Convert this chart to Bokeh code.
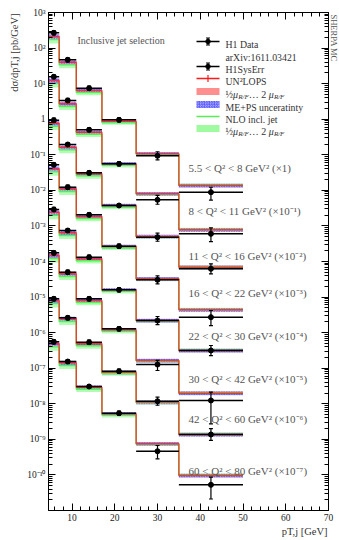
import math
from bokeh.plotting import figure
from bokeh.models import (Range1d, LinearScale, LinearAxis, LogAxis, FixedTicker,
                          CustomJSTickFormatter, Label, ColumnDataSource, Title)
from bokeh.embed import file_html
from bokeh.resources import INLINE

# ------------------------------------------------------------------ data
pt_edges = [4.5, 7, 11, 17, 25, 35, 50]
q2_labels = [
    "5.5 < Q² < 8 GeV² (×1)",
    "8 < Q² < 11 GeV² (×10⁻¹)",
    "11 < Q² < 16 GeV² (×10⁻²)",
    "16 < Q² < 22 GeV² (×10⁻³)",
    "22 < Q² < 30 GeV² (×10⁻⁴)",
    "30 < Q² < 42 GeV² (×10⁻⁵)",
    "42 < Q² < 60 GeV² (×10⁻⁶)",
    "60 < Q² < 80 GeV² (×10⁻⁷)",
]
scale_exp = [0, -1, -2, -3, -4, -5, -6, -7]

h1_data = [
    [268, 46.8, 7.45, 0.962, 0.0936, 0.00887],
    [156, 33.6, 5.04, 0.557, 0.0542, 0.0060],
    [93.8, 19.45, 3.11, 0.375, 0.0482, 0.00623],
    [52.3, 12.27, 2.056, 0.269, 0.0305, 0.00272],
    [29.0, 7.43, 1.32, 0.160, 0.0219, 0.00315],
    [17.5, 5.0, 0.893, 0.128, 0.0127, 0.00124],
    [8.93, 2.61, 0.538, 0.0824, 0.0118, 0.00137],
    [5.52, 1.54, 0.306, 0.0543, 0.00464, 0.000527],
]
h1_err_up = [
    [0.14, 0.14, 0.14, 0.14, 0.30, 0.38],
    [0.14, 0.14, 0.14, 0.14, 0.33, 0.47],
    [0.14, 0.14, 0.14, 0.14, 0.30, 0.38],
    [0.14, 0.14, 0.14, 0.14, 0.30, 0.54],
    [0.14, 0.14, 0.14, 0.14, 0.30, 0.38],
    [0.14, 0.14, 0.14, 0.14, 0.30, 0.71],
    [0.14, 0.14, 0.14, 0.14, 0.30, 0.47],
    [0.14, 0.14, 0.14, 0.14, 0.45, 0.65],
]
h1_err_dn = [
    [0.12, 0.12, 0.12, 0.12, 0.23, 0.40],
    [0.12, 0.12, 0.12, 0.12, 0.25, 0.40],
    [0.12, 0.12, 0.12, 0.12, 0.23, 0.28],
    [0.12, 0.12, 0.12, 0.12, 0.23, 0.42],
    [0.12, 0.12, 0.12, 0.12, 0.23, 0.28],
    [0.12, 0.12, 0.12, 0.12, 0.32, 0.78],
    [0.12, 0.12, 0.12, 0.12, 0.23, 0.32],
    [0.12, 0.12, 0.12, 0.12, 0.39, 0.60],
]
un2lops = [
    [211, 40.1, 6.41, 0.879, 0.1066, 0.01368],
    [122.5, 27.1, 4.31, 0.557, 0.080, 0.00778],
    [77.3, 16.3, 2.92, 0.375, 0.0505, 0.0069],
    [40.4, 11.06, 1.84, 0.264, 0.0326, 0.00438],
    [24.3, 6.41, 1.19, 0.160, 0.0219, 0.00315],
    [14.7, 4.51, 0.80, 0.120, 0.0164, 0.00198],
    [8.0, 2.45, 0.485, 0.0773, 0.0111, 0.00137],
    [4.85, 1.42, 0.292, 0.0522, 0.0075, 0.00096],
]
nlo_jet = [
    [173, 33.7, 5.64, 0.809, 0.1045, 0.01395],
    [100, 22.8, 3.79, 0.512, 0.0784, 0.00794],
    [63.4, 13.7, 2.57, 0.345, 0.0495, 0.00704],
    [33.1, 9.29, 1.62, 0.243, 0.0319, 0.00447],
    [19.9, 5.38, 1.05, 0.147, 0.0215, 0.00321],
    [12.1, 3.79, 0.704, 0.110, 0.0161, 0.00202],
    [6.56, 2.06, 0.427, 0.0711, 0.0109, 0.0014],
    [3.98, 1.19, 0.257, 0.048, 0.00735, 0.00098],
]
un2lops_scale_rel = [0.10, 0.09, 0.09, 0.09, 0.10, 0.11]
meps_rel = [0.16, 0.14, 0.13, 0.12, 0.12, 0.12]
nlo_scale_rel = [0.22, 0.20, 0.17, 0.14, 0.12, 0.12]

legend_texts = ["H1 Data", "arXiv:1611.03421", "H1SysErr", "UN²LOPS", None,
                "ME+PS unceratinty", "NLO incl. jet", None]

# ------------------------------------------------------------------ style / layout
FONT = "Liberation Serif"
FW, FH = 280, 498
RED = "#ff1a1a"
RED_BAND = "#ff8f8f"
GREEN = "#55ee55"
GREEN_BAND = "#a0fba0"
BLUE_H = "#5a5aff"
BLUE_F = "#d4d4ff"
TXT = "#333333"
GREY = "#555555"

leg_rows_y = [469, 456, 444, 432, 419, 406, 394, 382]
leg_sw_x0, leg_sw_x1, leg_txt_x = 148, 171, 177
q2_label_x = 140
q2_label_y = [343, 300, 255, 218, 175, 132, 92, 40]

p = figure(frame_width=FW, frame_height=FH, x_range=(4.5, 70), y_range=(1e-11, 1e3),
           y_axis_type="log", output_backend="svg", toolbar_location=None,
           min_border_left=48, min_border_right=11, min_border_top=12, min_border_bottom=30)
p.extra_x_ranges = {"px": Range1d(0, FW)}
p.extra_y_ranges = {"px": Range1d(0, FH)}
p.extra_y_scales = {"px": LinearScale()}
p.grid.visible = False
p.outline_line_color = "black"
p.background_fill_color = "white"
p.border_fill_color = "white"

x_major = [10, 20, 30, 40, 50, 60, 70]
x_minor = [v for v in range(6, 70, 2) if v % 10]
y_major = [10.0 ** e for e in range(-10, 4)]
y_minor = [k * 10.0 ** e for e in range(-11, 3) for k in range(2, 10)]

ylab = CustomJSTickFormatter(code="""
const e = Math.round(Math.log10(tick));
if (e == 0) return "1";
const sup = {"-":"⁻","0":"⁰","1":"¹","2":"²","3":"³","4":"⁴","5":"⁵","6":"⁶","7":"⁷","8":"⁸","9":"⁹"};
return "10" + String(e).split("").map(c => sup[c]).join("");
""")
blank = CustomJSTickFormatter(code='return "";')

def style_axis(ax, show_labels=True):
    ax.axis_line_color = "black"
    ax.major_tick_in = 7
    ax.major_tick_out = 0
    ax.minor_tick_in = 4
    ax.minor_tick_out = 0
    ax.major_tick_line_color = "black"
    ax.minor_tick_line_color = "black"
    ax.major_label_text_font = FONT
    ax.major_label_text_font_size = "9.5px" if show_labels else "0px"
    ax.major_label_text_color = "#222222"
    ax.major_label_standoff = 3 if show_labels else 0

p.xaxis[0].ticker = FixedTicker(ticks=x_major, minor_ticks=x_minor)
style_axis(p.xaxis[0])
p.yaxis[0].ticker = FixedTicker(ticks=y_major, minor_ticks=y_minor)
p.yaxis[0].formatter = ylab
style_axis(p.yaxis[0])

top = LinearAxis(ticker=FixedTicker(ticks=x_major, minor_ticks=x_minor), formatter=blank)
style_axis(top, False)
p.add_layout(top, "above")
right = LogAxis(ticker=FixedTicker(ticks=y_major, minor_ticks=y_minor), formatter=blank)
style_axis(right, False)
p.add_layout(right, "right")

# axis titles / side note (titles live in side panels, outside the frame)
p.add_layout(Title(text="dσ/dpT,j [pb/GeV]", align="right", offset=1, standoff=9,
                   text_font=FONT, text_font_size="10.5px", text_font_style="normal",
                   text_color=TXT), "left")
p.add_layout(Title(text="pT,j [GeV]", align="right", offset=1, standoff=1,
                   text_font=FONT, text_font_size="10.5px", text_font_style="normal",
                   text_color=TXT), "below")
p.add_layout(Title(text="SHERPA MC", align="left", offset=2, standoff=0,
                   text_font=FONT, text_font_size="8.5px", text_font_style="normal",
                   text_color=GREY), "right")

# ------------------------------------------------------------------ build columns
lo = pt_edges[:-1]
hi = pt_edges[1:]
ctr = [(a + b) / 2 for a, b in zip(lo, hi)]
cols = {k: [] for k in ["lo", "hi", "ctr", "d", "dup", "ddn", "rlo", "rhi",
                        "mlo", "mhi", "glo", "ghi"]}
for i in range(len(h1_data)):
    sc = 10.0 ** scale_exp[i]
    for j in range(len(lo)):
        d = h1_data[i][j] * sc
        r = un2lops[i][j] * sc
        g = nlo_jet[i][j] * sc
        cols["lo"].append(lo[j]); cols["hi"].append(hi[j]); cols["ctr"].append(ctr[j])
        cols["d"].append(d)
        cols["dup"].append(d * (1 + h1_err_up[i][j]))
        cols["ddn"].append(d * (1 - h1_err_dn[i][j]))
        cols["rlo"].append(r * (1 - un2lops_scale_rel[j]))
        cols["rhi"].append(r * (1 + un2lops_scale_rel[j]))
        cols["mlo"].append(r * (1 - meps_rel[j]))
        cols["mhi"].append(r * (1 + meps_rel[j]))
        cols["glo"].append(g * (1 - nlo_scale_rel[j]))
        cols["ghi"].append(g * (1 + nlo_scale_rel[j]))
src = ColumnDataSource(cols)

p.quad(left="lo", right="hi", bottom="glo", top="ghi", source=src,
       fill_color=GREEN_BAND, fill_alpha=0.8, line_color=None)
p.quad(left="lo", right="hi", bottom="rlo", top="rhi", source=src,
       fill_color=RED_BAND, fill_alpha=0.85, line_color=None)
p.quad(left="lo", right="hi", bottom="mlo", top="mhi", source=src,
       fill_color=BLUE_F, fill_alpha=0.35, line_color=None,
       hatch_pattern="criss_cross", hatch_color=BLUE_H, hatch_scale=2.5,
       hatch_weight=0.8, hatch_alpha=0.8)

for i in range(len(h1_data)):
    sc = 10.0 ** scale_exp[i]
    g = [v * sc for v in nlo_jet[i]]
    r = [v * sc for v in un2lops[i]]
    p.step(x=pt_edges, y=g + [g[-1]], mode="after", line_color=GREEN, line_width=1.4)
    p.step(x=pt_edges, y=r + [r[-1]], mode="after", line_color=RED, line_width=1.4,
           line_alpha=0.8)

p.segment(x0="lo", x1="hi", y0="d", y1="d", source=src, line_color="black", line_width=1.5)
p.segment(x0="ctr", x1="ctr", y0="ddn", y1="dup", source=src, line_color="black",
          line_width=1.2)
p.scatter(x="ctr", y="dup", source=src, marker="dash", size=4, line_color="black",
          line_width=1.2)
p.scatter(x="ctr", y="ddn", source=src, marker="dash", size=4, line_color="black",
          line_width=1.2)
p.scatter(x="ctr", y="d", source=src, marker="circle", size=5, fill_color="black",
          line_color="black")

# ------------------------------------------------------------------ text helpers
WID = {' ': 250, '/': 278, '.': 250, ',': 250, '[': 333, ']': 333, '(': 333, ')': 333,
       'G': 722, 'V': 722, 'R': 667, 'F': 556, 'T': 611, 'e': 444, 'p': 500, 'b': 500,
       'd': 500, 'j': 278, '½': 750, 'μ': 520, 'σ': 549, '…': 1000, '2': 500}
WID_IT = dict(WID, T=556, R=611, F=611)

def tw(s, size, italic=False):
    tab = WID_IT if italic else WID
    return sum(tab.get(c, 500) for c in s) * size / 1000.0

def label(text, x, y, size=10, color=TXT, align="left", baseline="middle",
          angle=0.0, style="normal"):
    p.add_layout(Label(x=x, y=y, x_units="screen", y_units="screen", text=text,
                       text_font=FONT, text_font_size=f"{size}px", text_color=color,
                       text_align=align, text_baseline=baseline, angle=angle,
                       text_font_style=style))

def rich(pieces, x, y, color=TXT):
    pos = 0.0
    for t, s, st, sh in pieces:
        label(t, x + pos, y + sh, size=s, color=color, baseline="alphabetic", style=st)
        pos += tw(t, s, st == "italic")

# ------------------------------------------------------------------ legend (manual)
def px_seg(x0, y0, x1, y1, color, w=1.3):
    p.segment(x0=[x0], y0=[y0], x1=[x1], y1=[y1], line_color=color, line_width=w,
              x_range_name="px", y_range_name="px")

xm = (leg_sw_x0 + leg_sw_x1) / 2
for k in (0, 2):
    yk = leg_rows_y[k]
    px_seg(leg_sw_x0, yk, leg_sw_x1, yk, "black", 1.3)
    px_seg(xm, yk - 3.5, xm, yk + 3.5, "black", 1.2)
    p.scatter(x=[xm, xm], y=[yk - 3.5, yk + 3.5], marker="dash", size=4,
              line_color="black", x_range_name="px", y_range_name="px")
    p.scatter(x=[xm], y=[yk], marker="circle", size=4.5, color="black",
              x_range_name="px", y_range_name="px")
yk = leg_rows_y[3]
px_seg(leg_sw_x0, yk, leg_sw_x1, yk, RED, 1.3)
px_seg(xm, yk - 3.5, xm, yk + 3.5, RED, 1.2)
yk = leg_rows_y[4]
p.quad(left=[leg_sw_x0], right=[leg_sw_x1], bottom=[yk - 3.5], top=[yk + 3.5],
       fill_color=RED_BAND, line_color=None, x_range_name="px", y_range_name="px")
yk = leg_rows_y[5]
p.quad(left=[leg_sw_x0], right=[leg_sw_x1], bottom=[yk - 3.5], top=[yk + 3.5],
       fill_color=BLUE_F, fill_alpha=0.6, line_color=None, hatch_pattern="criss_cross",
       hatch_color=BLUE_H, hatch_scale=2.5, hatch_weight=0.9,
       x_range_name="px", y_range_name="px")
yk = leg_rows_y[6]
px_seg(leg_sw_x0, yk, leg_sw_x1, yk, GREEN, 1.6)
yk = leg_rows_y[7]
p.quad(left=[leg_sw_x0], right=[leg_sw_x1], bottom=[yk - 3.5], top=[yk + 3.5],
       fill_color=GREEN_BAND, line_color=None, x_range_name="px", y_range_name="px")

for k, t in enumerate(legend_texts):
    if t is not None:
        label(t, leg_txt_x, leg_rows_y[k] - 3.3, size=9.8, baseline="alphabetic")
    else:
        rich([("½", 10, "normal", 0), ("μ", 10, "italic", 0),
              ("R/F", 7, "italic", -2.5), (" … 2", 10, "normal", 0),
              ("μ", 10, "italic", 0), ("R/F", 7, "italic", -2.5)],
             leg_txt_x, leg_rows_y[k] - 3.3)

# ------------------------------------------------------------------ other texts
label("Inclusive jet selection", 29, 470, size=10, color=GREY)
for t, yq in zip(q2_labels, q2_label_y):
    label(t, q2_label_x, yq, size=11, color=GREY)

open("out.html", "w").write(file_html(p, INLINE))
